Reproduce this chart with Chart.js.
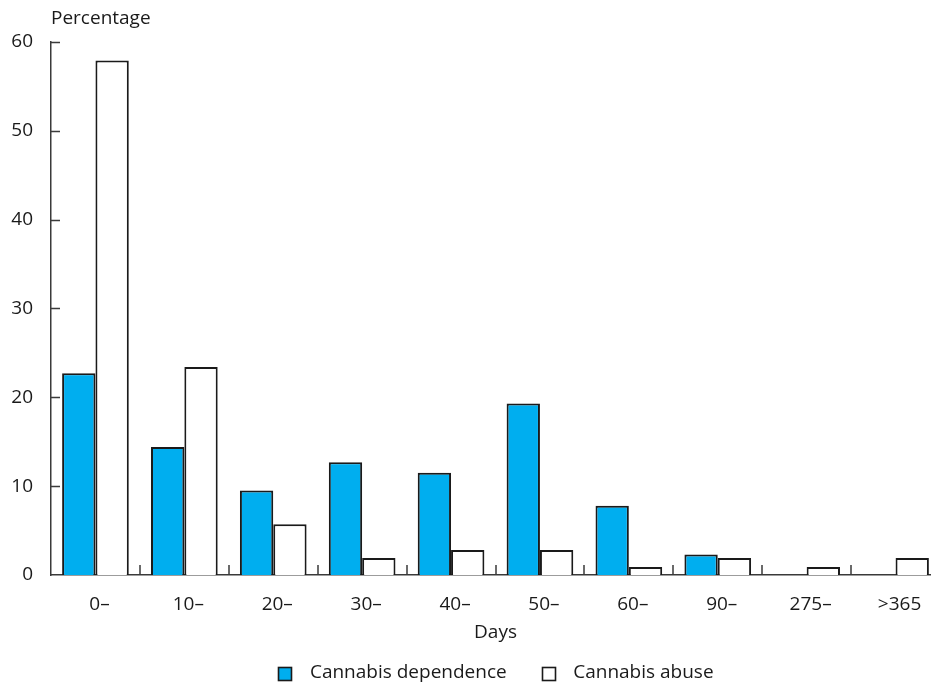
<!DOCTYPE html>
<html>
<head>
<meta charset="utf-8">
<script src="https://cdn.jsdelivr.net/npm/chart.js@4/dist/chart.umd.min.js"></script>
<style>
html,body{margin:0;padding:0;background:#fff;overflow:hidden;}
#wrap{width:940px;height:700px;}
</style>
</head>
<body>
<div id="wrap"><canvas id="c" width="940" height="700"></canvas></div>
<script>
const categories = ["0\u2013","10\u2013","20\u2013","30\u2013","40\u2013","50\u2013","60\u2013","90\u2013","275\u2013",">365"];
const dependence = [22.7,14.4,9.5,12.7,11.5,19.3,7.8,2.3,0,0];
const abuse = [57.9,23.4,5.7,1.9,2.8,2.8,0.9,1.9,0.9,1.9];
const yTicks = [0,10,20,30,40,50,60];
const seriesNames = ["Cannabis dependence","Cannabis abuse"];
const seriesColors = ["#00AEEF","#ffffff"];

const FONT = "'Open Sans', 'Noto Sans', sans-serif";
const FS = 19;
const axisColor = "#3a3a3a";
const ink = "#1a1a1a";
const BOX = 13, BOX_OFFSET = 1, BOX_GAP = 9;

const innerTicks = {
  id: "innerTicks",
  afterDraw(chart) {
    const ctx = chart.ctx;
    const x = chart.scales.x, y = chart.scales.y;
    ctx.save();
    ctx.strokeStyle = axisColor;
    ctx.lineWidth = 1.5;
    ctx.beginPath();
    yTicks.forEach(v => {
      if (v === 0) return;
      const py = Math.round(y.getPixelForValue(v)) + 0.5;
      ctx.moveTo(x.left, py);
      ctx.lineTo(x.left + 9, py);
    });
    for (let i = 1; i < categories.length; i++) {
      const px = Math.round((x.getPixelForTick(i - 1) + x.getPixelForTick(i)) / 2);
      ctx.moveTo(px, y.bottom);
      ctx.lineTo(px, y.bottom - 10);
    }
    ctx.stroke();
    const lg = chart.legend;
    if (lg && lg.legendHitBoxes) {
      lg.legendHitBoxes.forEach((hb, i) => {
        const bx = Math.round(hb.left + BOX_OFFSET) + 0.5;
        const by = Math.round(hb.top + (hb.height - BOX) / 2) + 0.5;
        ctx.fillStyle = seriesColors[i];
        ctx.fillRect(bx, by, BOX, BOX);
        ctx.strokeStyle = ink;
        ctx.lineWidth = 1.6;
        ctx.strokeRect(bx, by, BOX, BOX);
      });
    }
    ctx.restore();
  }
};

new Chart(document.getElementById("c"), {
  type: "bar",
  data: {
    labels: categories,
    datasets: [
      { label: seriesNames[0], data: dependence, backgroundColor: seriesColors[0], borderColor: ink, borderWidth: 2 },
      { label: seriesNames[1], data: abuse, backgroundColor: seriesColors[1], borderColor: ink, borderWidth: 2 }
    ]
  },
  options: {
    responsive: false,
    animation: false,
    devicePixelRatio: 1,
    layout: { padding: { left: 0, right: 0, top: 0, bottom: 7.5 } },
    datasets: { bar: { categoryPercentage: 0.75, barPercentage: 1.0 } },
    plugins: {
      tooltip: { enabled: false },
      title: {
        display: true, text: "Percentage", align: "start", fullSize: false,
        color: ink, font: { family: FONT, size: FS, weight: "normal" },
        padding: { top: 7, bottom: 12 }
      },
      legend: {
        position: "bottom", fullSize: false,
        labels: {
          color: ink, font: { family: FONT, size: FS },
          boxWidth: BOX_OFFSET + BOX + BOX_GAP, boxHeight: BOX, padding: 34,
          generateLabels(chart) {
            return chart.data.datasets.map((d, i) => ({
              text: d.label, fillStyle: "rgba(0,0,0,0)", strokeStyle: "rgba(0,0,0,0)",
              lineWidth: 0, datasetIndex: i, fontColor: ink
            }));
          }
        }
      }
    },
    scales: {
      x: {
        grid: { display: false, drawTicks: false },
        border: { display: true, color: axisColor, width: 1.5 },
        ticks: { color: ink, font: { family: FONT, size: FS }, padding: 18.5, labelOffset: 4, maxRotation: 0 },
        title: { display: true, text: "Days", color: ink, font: { family: FONT, size: FS }, padding: { top: -13.2, bottom: -14.9 } }
      },
      y: {
        min: 0, max: 60,
        afterBuildTicks(s) { s.ticks = yTicks.map(v => ({ value: v })); },
        afterFit(s) { s.width = 51; },
        grid: { display: false, drawTicks: false },
        border: { display: true, color: axisColor, width: 1.5 },
        ticks: { color: ink, font: { family: FONT, size: FS }, padding: 18 }
      }
    }
  },
  plugins: [innerTicks]
});
</script>
</body>
</html>
